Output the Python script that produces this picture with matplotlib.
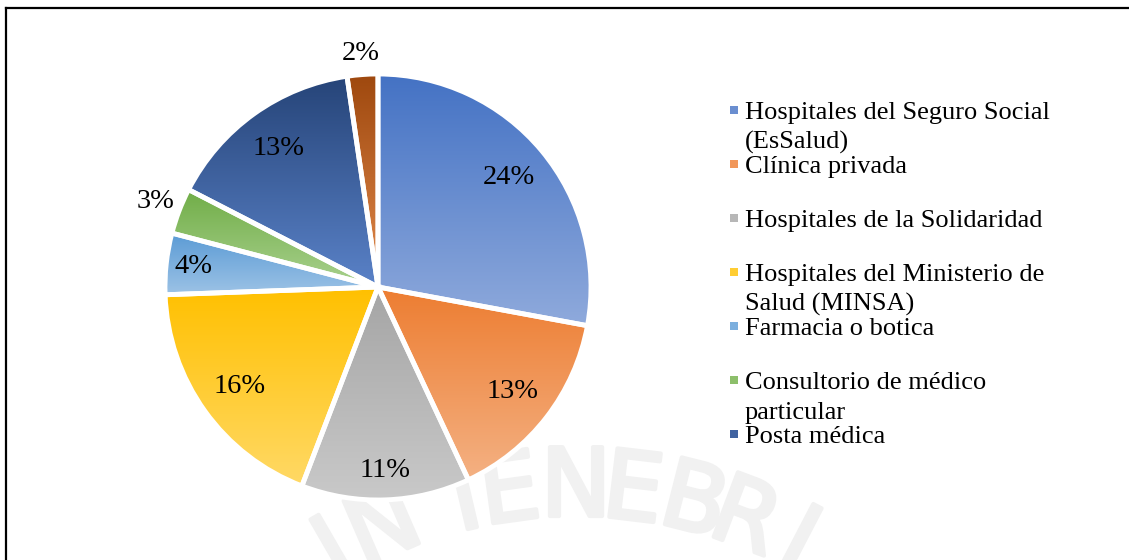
import numpy as np
import matplotlib
matplotlib.use('Agg')
import matplotlib.pyplot as plt
import matplotlib.patheffects as pe
from matplotlib.colors import to_rgb
from matplotlib.lines import Line2D
from matplotlib.patches import Rectangle

# Data
categories = ['Hospitales del Seguro Social\n(EsSalud)', 'Clínica privada',
              'Hospitales de la Solidaridad', 'Hospitales del Ministerio de\nSalud (MINSA)',
              'Farmacia o botica', 'Consultorio de médico\nparticular', 'Posta médica', 'Otro']
values = [24, 13, 11, 16, 4, 3, 13, 2]
pct_labels = ['24%', '13%', '11%', '16%', '4%', '3%', '13%', '2%']

# gradient colours (top -> bottom of each slice)
top_colors = ['#4472C4', '#ED7D31', '#A5A5A5', '#FFC000', '#5B9BD5', '#70AD47', '#264478', '#9E480E']
bottom_colors = ['#8FAADC', '#F4B183', '#C9C9C9', '#FFD966', '#9DC3E6', '#A9D18E', '#5A82C8', '#E28A4C']
label_dist = [0.8, 0.8, 0.86, 0.8, 0.87, 1.12, 0.8, 1.1]
n_legend = 7

W, H = 1129, 560
fig = plt.figure(figsize=(W / 100, H / 100), dpi=100)
serif = 'Liberation Serif'

# watermark (faint seal text)
wm_letters = ['I', 'N', 'T', 'E', 'N', 'E', 'B', 'R', 'I']
wm_angles = [-30, -23.5, -13.2, -7.9, 0, 6.8, 14.2, 20.6, 27.5]
cx, cy, rr = 576, 970, 480
for ch, a in zip(wm_letters, wm_angles):
    t = np.deg2rad(a)
    x = cx + rr * np.sin(t)
    y = cy - rr * np.cos(t)
    fig.text(x / W, 1 - y / H, ch, fontsize=68,
             family=['Liberation Sans Narrow', 'DejaVu Sans'],
             color='#f1f1f1', rotation=-a, ha='center', va='center', zorder=-5,
             path_effects=[pe.withStroke(linewidth=3, foreground='#f1f1f1')])

# pie axes: centre (378, 287) px, radius 213 px
pc_x, pc_y, pr = 378, 287, 213
lim = 1.3
size = 2 * lim * pr
ax = fig.add_axes([(pc_x - size / 2) / W, (H - pc_y - size / 2) / H, size / W, size / H])

wedges, _ = ax.pie(values, startangle=90, counterclock=False, radius=1,
                   wedgeprops=dict(edgecolor='white', linewidth=3.5))

for i, w in enumerate(wedges):
    w.set_facecolor('none')
    w.set_zorder(3)
    bb = w.get_path().get_extents()
    c0 = np.array(to_rgb(top_colors[i]))
    c1 = np.array(to_rgb(bottom_colors[i]))
    t = np.linspace(0, 1, 256)[:, None]
    grad = (c1 * (1 - t) + c0 * t)[:, None, :]
    im = ax.imshow(grad, extent=[bb.x0, bb.x1, bb.y0, bb.y1], origin='lower',
                   aspect='auto', zorder=2, interpolation='bilinear')
    im.set_clip_path(w)

    mid = np.deg2rad((w.theta1 + w.theta2) / 2)
    d = label_dist[i]
    ax.text(d * np.cos(mid), d * np.sin(mid), pct_labels[i], ha='center', va='center',
            fontsize=20.5, family=serif, color='black', zorder=5)

ax.set_xlim(-lim, lim)
ax.set_ylim(-lim, lim)
ax.set_aspect('equal')
ax.axis('off')

# legend (manual, lines wrap into the next entry like in the original)
leg_x, leg_y0, leg_dy, line_h = 745, 119, 54, 30
for i in range(n_legend):
    yb = leg_y0 + i * leg_dy
    mid_col = (np.array(to_rgb(top_colors[i])) + np.array(to_rgb(bottom_colors[i]))) / 2
    fig.add_artist(Rectangle(((leg_x - 15) / W, 1 - (yb - 5) / H), 8 / W, 8 / H,
                             facecolor=mid_col, edgecolor='none', transform=fig.transFigure))
    for j, line in enumerate(categories[i].split('\n')):
        fig.text(leg_x / W, 1 - (yb + j * line_h) / H, line, fontsize=19, family=serif,
                 ha='left', va='baseline')

# frame (top and left)
fig.add_artist(Line2D([5.5 / W, 5.5 / W], [0, 1 - 7.5 / H], color='black', lw=1.6))
fig.add_artist(Line2D([5.5 / W, 1], [1 - 7.5 / H, 1 - 7.5 / H], color='black', lw=1.6))

fig.savefig('out.png', dpi=100)
